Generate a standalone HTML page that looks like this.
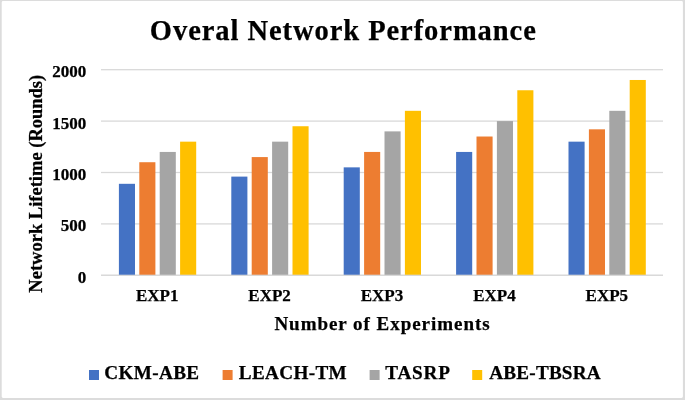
<!DOCTYPE html>
<html><head><meta charset="utf-8"><title>Overal Network Performance</title>
<style>
html,body{margin:0;padding:0;background:#fff;}
body{width:685px;height:400px;overflow:hidden;}
svg{display:block;}
text{font-family:"Liberation Serif","Times New Roman",serif;font-weight:bold;fill:#000;stroke:#000;stroke-width:0.25px;}
</style></head><body>
<svg width="685" height="400" viewBox="0 0 685 400">
<rect x="0" y="0" width="685" height="400" fill="#fff"/>
<rect x="101.0" y="274.65" width="562.0" height="1.3" fill="#d9d9d9"/>
<rect x="101.0" y="223.25" width="562.0" height="1.3" fill="#d9d9d9"/>
<rect x="101.0" y="171.85" width="562.0" height="1.3" fill="#d9d9d9"/>
<rect x="101.0" y="120.45" width="562.0" height="1.3" fill="#d9d9d9"/>
<rect x="101.0" y="69.05" width="562.0" height="1.3" fill="#d9d9d9"/>
<rect x="118.90" y="183.81" width="16.1" height="91.49" fill="#4472C4"/>
<rect x="139.30" y="162.22" width="16.1" height="113.08" fill="#ED7D31"/>
<rect x="159.70" y="151.94" width="16.1" height="123.36" fill="#A5A5A5"/>
<rect x="180.10" y="141.66" width="16.1" height="133.64" fill="#FFC000"/>
<rect x="231.30" y="176.61" width="16.1" height="98.69" fill="#4472C4"/>
<rect x="251.70" y="157.08" width="16.1" height="118.22" fill="#ED7D31"/>
<rect x="272.10" y="141.66" width="16.1" height="133.64" fill="#A5A5A5"/>
<rect x="292.50" y="126.24" width="16.1" height="149.06" fill="#FFC000"/>
<rect x="343.70" y="167.36" width="16.1" height="107.94" fill="#4472C4"/>
<rect x="364.10" y="151.94" width="16.1" height="123.36" fill="#ED7D31"/>
<rect x="384.50" y="131.38" width="16.1" height="143.92" fill="#A5A5A5"/>
<rect x="404.90" y="110.82" width="16.1" height="164.48" fill="#FFC000"/>
<rect x="456.10" y="151.94" width="16.1" height="123.36" fill="#4472C4"/>
<rect x="476.50" y="136.52" width="16.1" height="138.78" fill="#ED7D31"/>
<rect x="496.90" y="121.10" width="16.1" height="154.20" fill="#A5A5A5"/>
<rect x="517.30" y="90.26" width="16.1" height="185.04" fill="#FFC000"/>
<rect x="568.50" y="141.66" width="16.1" height="133.64" fill="#4472C4"/>
<rect x="588.90" y="129.32" width="16.1" height="145.98" fill="#ED7D31"/>
<rect x="609.30" y="110.82" width="16.1" height="164.48" fill="#A5A5A5"/>
<rect x="629.70" y="79.98" width="16.1" height="195.32" fill="#FFC000"/>
<rect x="101.0" y="274.70" width="562.0" height="1.25" fill="#d9d9d9"/>
<text x="86.2" y="282.80" font-size="17" text-anchor="end">0</text>
<text x="86.2" y="231.40" font-size="17" text-anchor="end">500</text>
<text x="86.2" y="180.00" font-size="17" text-anchor="end">1000</text>
<text x="86.2" y="128.60" font-size="17" text-anchor="end">1500</text>
<text x="86.2" y="77.20" font-size="17" text-anchor="end">2000</text>
<text x="157.20" y="300.9" font-size="17" text-anchor="middle">EXP1</text>
<text x="269.60" y="300.9" font-size="17" text-anchor="middle">EXP2</text>
<text x="382.00" y="300.9" font-size="17" text-anchor="middle">EXP3</text>
<text x="494.40" y="300.9" font-size="17" text-anchor="middle">EXP4</text>
<text x="606.80" y="300.9" font-size="17" text-anchor="middle">EXP5</text>
<text x="343.3" y="40.2" font-size="28.5" letter-spacing="0.94" text-anchor="middle">Overal Network Performance</text>
<text x="382.5" y="329.5" font-size="19" letter-spacing="0.96" text-anchor="middle">Number of Experiments</text>
<text transform="translate(41.7,183.7) rotate(-90)" font-size="18.5" text-anchor="middle">Network Lifetime (Rounds)</text>
<rect x="89" y="370" width="10" height="10" fill="#4472C4"/>
<text x="104.3" y="379.35" font-size="19.2" letter-spacing="0.35">CKM-ABE</text>
<rect x="222.6" y="370" width="10" height="10" fill="#ED7D31"/>
<text x="238.8" y="379.35" font-size="19.2" letter-spacing="0.33">LEACH-TM</text>
<rect x="369.6" y="370" width="10" height="10" fill="#A5A5A5"/>
<text x="385.3" y="379.35" font-size="19.2" letter-spacing="0.77">TASRP</text>
<rect x="472.2" y="370" width="10" height="10" fill="#FFC000"/>
<text x="489.3" y="379.35" font-size="19.2" letter-spacing="0.19">ABE-TBSRA</text>
<path fill="#dcdcdc" fill-rule="evenodd" d="M0 0H685V400H0Z M3.1 1.1H681.5Q682.9 1.1 682.9 2.5V396.5Q682.9 397.9 681.5 397.9H3.1Q1.7 397.9 1.7 396.5V2.5Q1.7 1.1 3.1 1.1Z"/>
</svg>
</body></html>
